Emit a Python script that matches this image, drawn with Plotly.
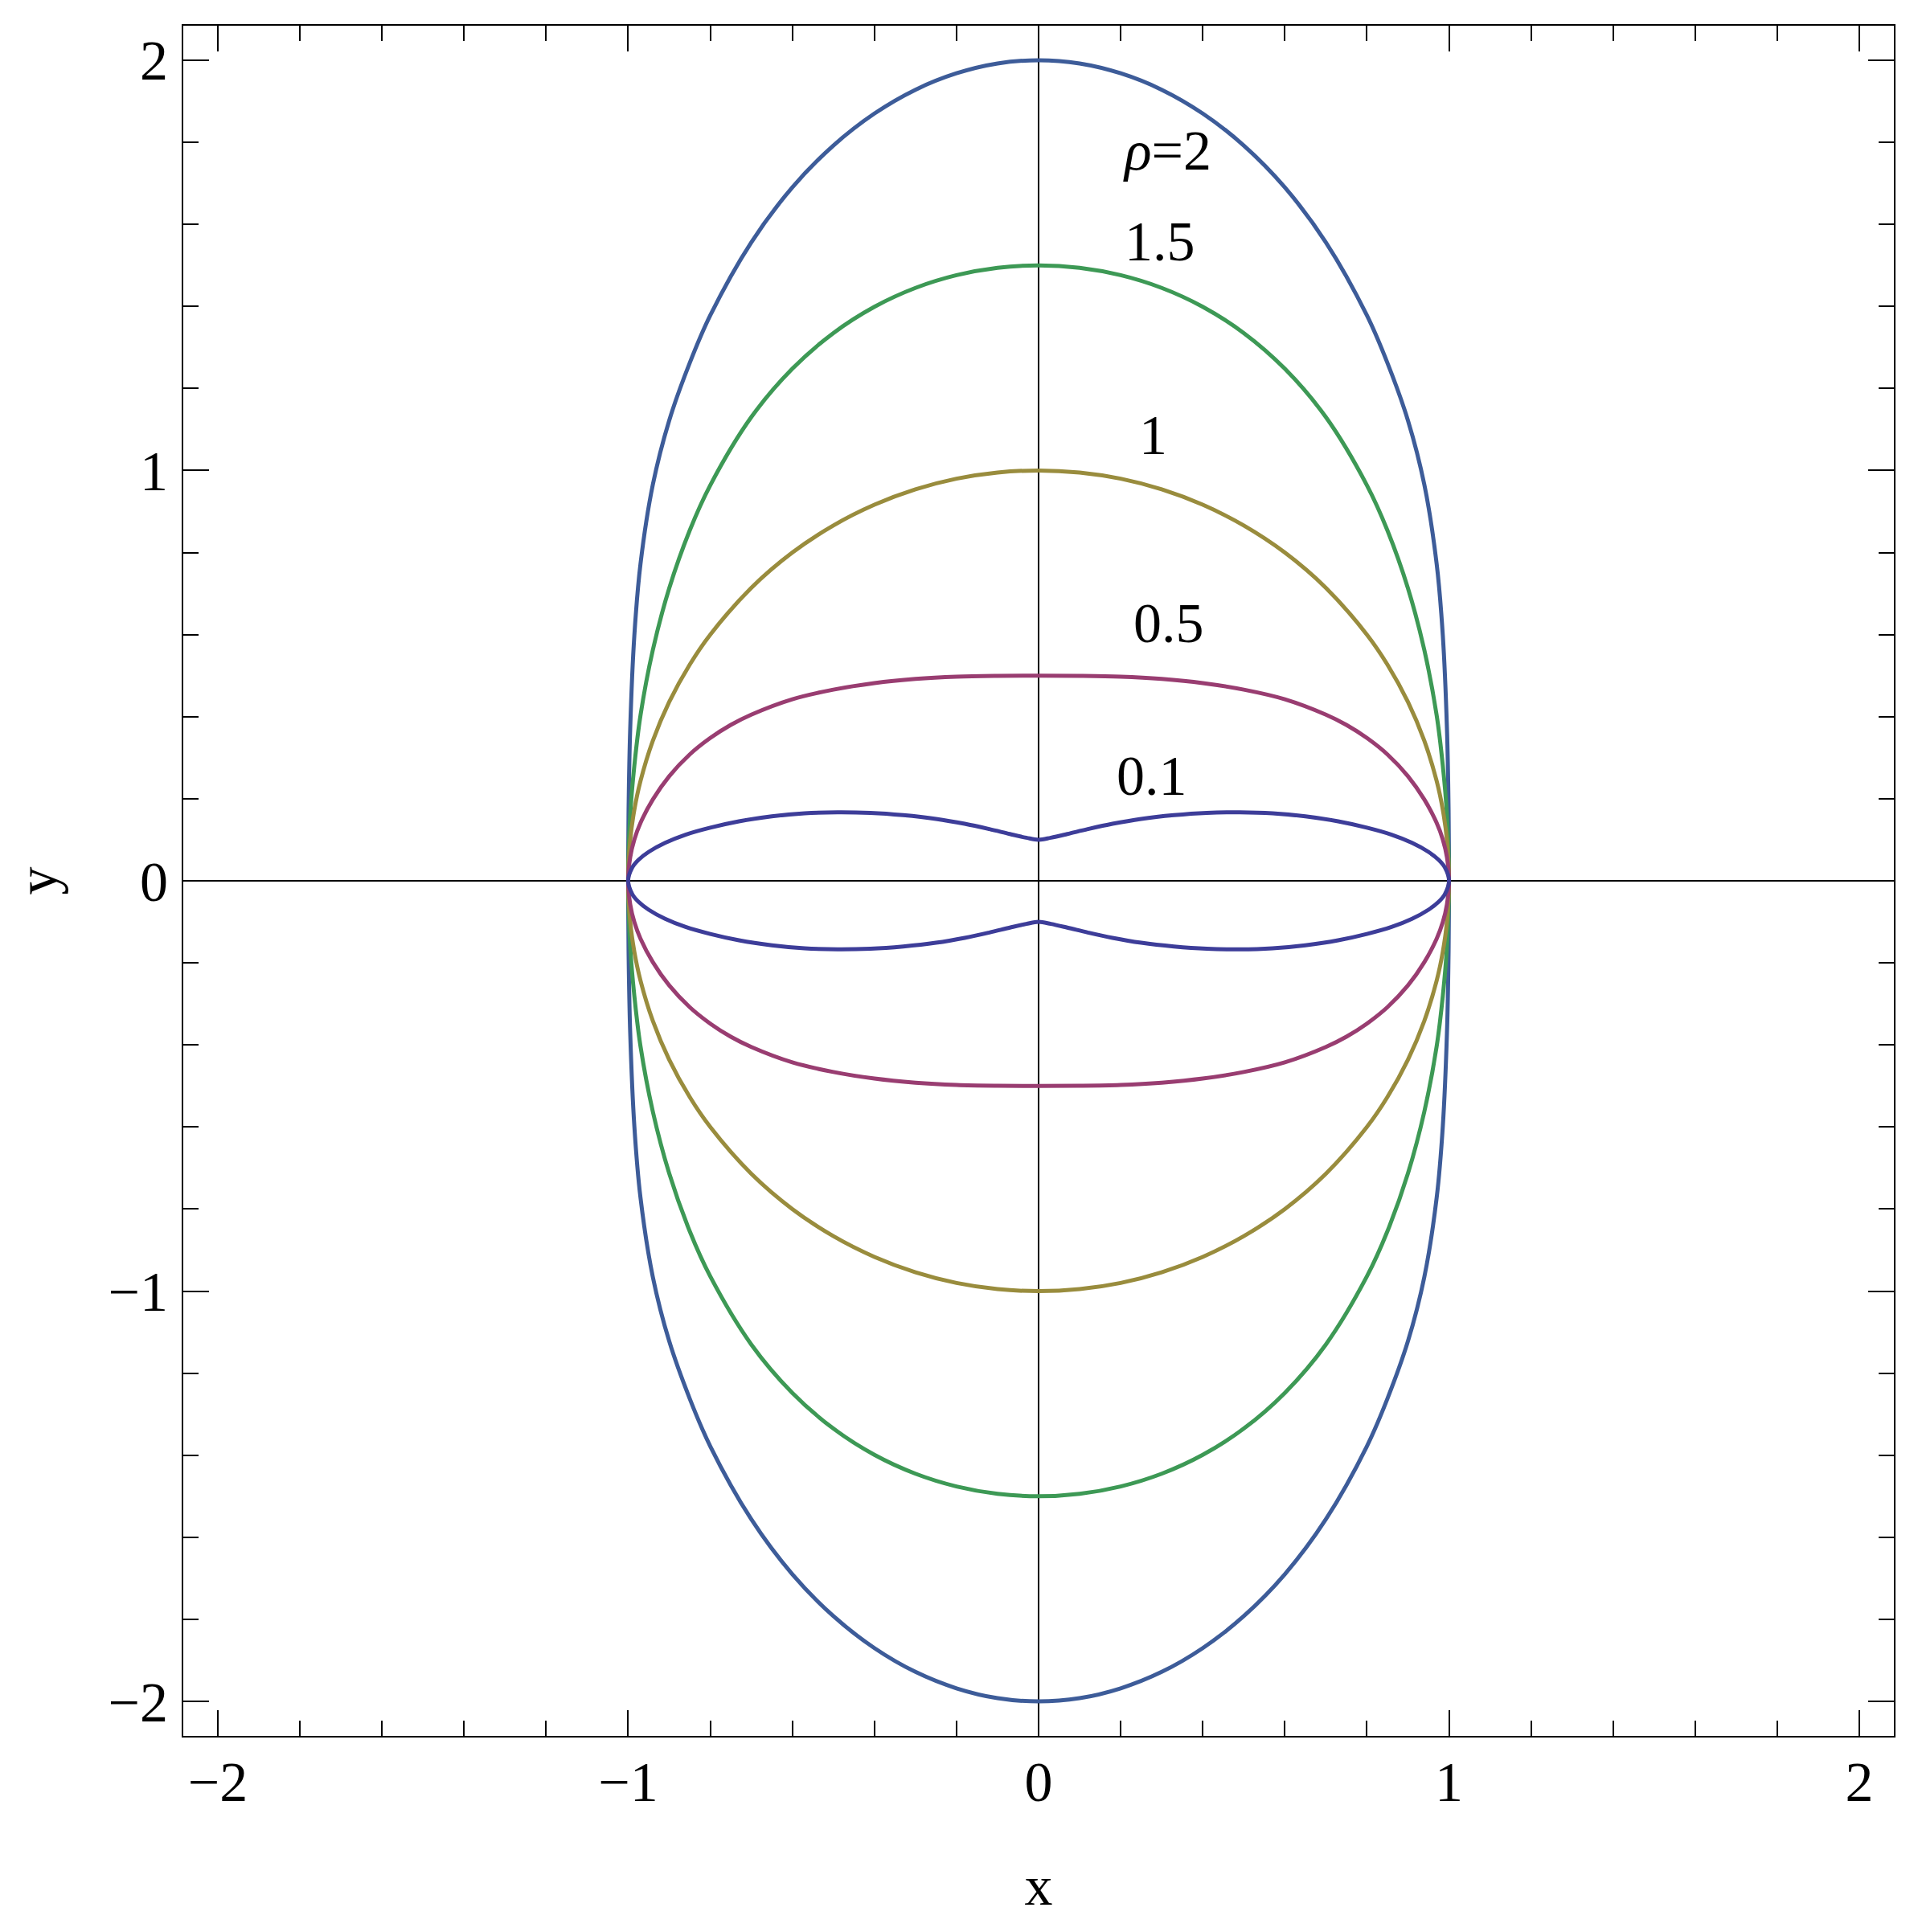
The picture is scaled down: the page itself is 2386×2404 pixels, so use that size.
import plotly.graph_objects as go

# ---- data: upper-right quadrant of each curve, x>=0, y>=0 ----
rho_labels = ["ρ=2", "1.5", "1", "0.5", "0.1"]
colors = ["#3d5c99", "#3d9955", "#998c3d", "#993d71", "#3d3d99"]

x_rho2 = [0, 0.1, 0.2, 0.3, 0.4, 0.5, 0.6, 0.7, 0.8, 0.85, 0.9, 0.94, 0.97, 0.985, 0.995, 0.999, 1.0]
y_rho2 = [2.0, 1.992, 1.968, 1.928, 1.870, 1.792, 1.690, 1.556, 1.378, 1.262, 1.122, 0.965, 0.772, 0.597, 0.372, 0.173, 0.0]

x_rho15 = [0, 0.1, 0.2, 0.3, 0.4, 0.5, 0.6, 0.7, 0.8, 0.85, 0.9, 0.94, 0.97, 0.985, 0.995, 1.0]
y_rho15 = [1.5, 1.494, 1.476, 1.445, 1.399, 1.335, 1.248, 1.130, 0.964, 0.854, 0.713, 0.562, 0.403, 0.280, 0.160, 0.0]

x_rho1 = [0, 0.1, 0.2, 0.3, 0.4, 0.5, 0.6, 0.7, 0.8, 0.85, 0.9, 0.94, 0.97, 0.985, 0.995, 1.0]
y_rho1 = [1.0, 0.995, 0.980, 0.954, 0.9165, 0.866, 0.800, 0.714, 0.600, 0.527, 0.436, 0.341, 0.243, 0.1726, 0.0999, 0.0]

x_rho05 = [0, 0.1, 0.2, 0.3, 0.4, 0.5, 0.6, 0.7, 0.75, 0.8, 0.85, 0.9, 0.94, 0.97, 0.985, 0.995, 1.0]
y_rho05 = [0.5, 0.4995, 0.4975, 0.492, 0.482, 0.466, 0.4425, 0.405, 0.380, 0.348, 0.308, 0.255, 0.198, 0.141, 0.1005, 0.0575, 0.0]

x_rho01 = [0, 0.03, 0.07, 0.12, 0.18, 0.25, 0.33, 0.41, 0.49, 0.57, 0.65, 0.73, 0.8, 0.86, 0.91, 0.95, 0.975, 0.99, 1.0]
y_rho01 = [0.1, 0.105, 0.114, 0.126, 0.139, 0.151, 0.160, 0.1655, 0.167, 0.1645, 0.157, 0.145, 0.1295, 0.1125, 0.0925, 0.0705, 0.051, 0.0325, 0.0]

# label positions
label_x = [0.313, 0.296, 0.280, 0.317, 0.276]
label_y = [1.779, 1.559, 1.087, 0.627, 0.255]

tick_vals = [-2, -1, 0, 1, 2]
tick_text = ["\u22122", "\u22121", "0", "1", "2"]

quadrants = [(x_rho2, y_rho2), (x_rho15, y_rho15), (x_rho1, y_rho1),
             (x_rho05, y_rho05), (x_rho01, y_rho01)]


def closed_curve(qx, qy):
    n = len(qx)
    xs, ys = [], []
    # upper right (top -> right)
    xs += list(qx); ys += list(qy)
    # lower right (right -> bottom)
    xs += [qx[i] for i in range(n - 2, -1, -1)]; ys += [-qy[i] for i in range(n - 2, -1, -1)]
    # lower left (bottom -> left)
    xs += [-qx[i] for i in range(1, n)]; ys += [-qy[i] for i in range(1, n)]
    # upper left (left -> top)
    xs += [-qx[i] for i in range(n - 2, -1, -1)]; ys += [qy[i] for i in range(n - 2, -1, -1)]
    return xs, ys


fig = go.Figure()
for (qx, qy), col, name in zip(quadrants, colors, rho_labels):
    xs, ys = closed_curve(qx, qy)
    fig.add_trace(go.Scatter(x=xs, y=ys, mode="lines", name=name,
                             line=dict(color=col, width=5, shape="spline", smoothing=1.0),
                             hoverinfo="skip", showlegend=False))

FONT = "Liberation Serif, Times New Roman, serif"
for lx, ly, txt in zip(label_x, label_y, rho_labels):
    t = txt.replace("ρ", "<i>ρ</i>")
    fig.add_annotation(x=lx, y=ly, text=t, showarrow=False,
                       font=dict(family=FONT, size=70, color="black"),
                       xanchor="center", yanchor="middle")

RANGE = [-2.084, 2.084]
axis_common = dict(
    range=RANGE, showgrid=False, automargin=False,
    zeroline=True, zerolinecolor="black", zerolinewidth=2,
    showline=True, linecolor="black", linewidth=2, mirror="ticks",
    ticks="inside", ticklen=32, tickwidth=2, tickcolor="black",
    tickmode="array", tickvals=tick_vals, ticktext=tick_text,
    tickfont=dict(family=FONT, size=70, color="black"),
    minor=dict(tickmode="linear", tick0=0, dtick=0.2, ticks="inside",
               ticklen=19, tickwidth=2, tickcolor="black", showgrid=False),
)

fig.update_xaxes(**axis_common,
                 title=dict(text="x", font=dict(family=FONT, size=70, color="black"), standoff=66),
                 ticklabelstandoff=-5)
fig.update_yaxes(**axis_common,
                 title=dict(text="y", font=dict(family=FONT, size=70, color="black"), standoff=61),
                 ticklabelstandoff=3)

# page body has an 8px default margin; compensate so the plot area lands where the reference has it
fig.update_layout(
    width=2378, height=2396, autosize=False,
    margin=dict(l=220, r=30, t=24, b=244),
    plot_bgcolor="white", paper_bgcolor="white",
)

fig.write_html("out.html")
